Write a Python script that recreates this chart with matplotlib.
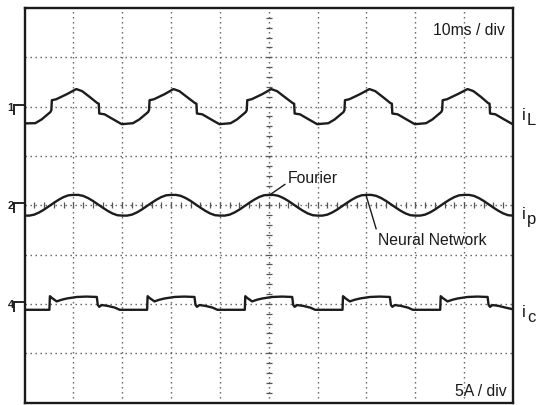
import matplotlib
matplotlib.use("Agg")
import matplotlib.pyplot as plt
import numpy as np

plt.rcParams["font.family"] = ["Liberation Sans", "DejaVu Sans"]

# ---- scope settings ----
TIME_PER_DIV = 10.0   # ms / div
AMP_PER_DIV = 5.0     # A / div
time_label = "10ms / div"
amp_label = "5A / div"

# channel ground levels (divisions from screen centre)
offset_L = 2.0
offset_p = 0.0
offset_c = -2.0

# load current i_L  (time in ms, current in A)
t_L = [0.0, 2.2, 3.5, 5.3, 5.5, 5.6, 6.5, 8.7, 10.6, 11.8, 13.4, 14.9, 15.2, 15.3, 16.4, 18.1, 19.9,
       22.2, 23.5, 25.3, 25.5, 25.6, 26.5, 28.7, 30.5, 31.7, 33.3, 34.9, 35.2, 35.3, 36.4, 38.1, 39.9,
       42.2, 43.5, 45.3, 45.5, 45.6, 46.5, 48.7, 50.5, 51.7, 53.3, 54.9, 55.2, 55.3, 56.4, 58.1, 59.9,
       62.2, 63.5, 65.3, 65.5, 65.6, 66.5, 68.7, 70.6, 71.8, 73.4, 74.9, 75.2, 75.3, 76.4, 78.1, 79.9,
       82.2, 83.5, 85.3, 85.5, 85.6, 86.5, 88.7, 90.7, 91.9, 93.5, 94.9, 95.2, 95.3, 96.4, 98.1, 100.0]
i_L = [-1.70, -1.68, -1.30, -0.55, -0.35, 0.65, 0.75, 1.27, 1.78, 1.57, 0.96, 0.36, 0.30, -0.70, -0.78, -1.27, -1.78,
       -1.68, -1.30, -0.55, -0.35, 0.65, 0.75, 1.27, 1.78, 1.57, 0.96, 0.36, 0.30, -0.70, -0.78, -1.27, -1.78,
       -1.68, -1.30, -0.55, -0.35, 0.65, 0.75, 1.27, 1.78, 1.57, 0.96, 0.36, 0.30, -0.70, -0.78, -1.27, -1.78,
       -1.68, -1.30, -0.55, -0.35, 0.65, 0.75, 1.27, 1.78, 1.57, 0.96, 0.36, 0.30, -0.70, -0.78, -1.27, -1.78,
       -1.68, -1.30, -0.55, -0.35, 0.65, 0.75, 1.27, 1.78, 1.57, 0.96, 0.36, 0.30, -0.70, -0.78, -1.27, -1.80]

# supply current i_p, sampled every 1 ms (Fourier and neural-network traces overlap)
t_p = list(range(0, 101))
i_p = [-1.05, -1.05, -0.95, -0.73, -0.44, -0.10, 0.24, 0.56, 0.83, 1.01,
       1.05, 1.05, 0.95, 0.73, 0.44, 0.10, -0.24, -0.56, -0.83, -1.01,
       -1.05, -1.05, -0.95, -0.73, -0.44, -0.10, 0.24, 0.56, 0.83, 1.01,
       1.05, 1.05, 0.95, 0.73, 0.44, 0.10, -0.24, -0.56, -0.83, -1.01,
       -1.05, -1.05, -0.95, -0.73, -0.44, -0.10, 0.24, 0.56, 0.83, 1.01,
       1.05, 1.05, 0.95, 0.73, 0.44, 0.10, -0.24, -0.56, -0.83, -1.01,
       -1.05, -1.05, -0.95, -0.73, -0.44, -0.10, 0.24, 0.56, 0.83, 1.01,
       1.05, 1.05, 0.95, 0.73, 0.44, 0.10, -0.24, -0.56, -0.83, -1.01,
       -1.05, -1.05, -0.95, -0.73, -0.44, -0.10, 0.24, 0.56, 0.83, 1.01,
       1.05, 1.05, 0.95, 0.73, 0.44, 0.10, -0.24, -0.56, -0.83, -1.01,
       -1.05]

# compensating current i_c
t_c = [0.0, 5.1, 5.2, 5.6, 6.6, 7.6, 8.7, 10.7, 12.7, 14.8, 15.0, 15.3, 15.8, 17.0, 18.5, 19.5,
       25.1, 25.2, 25.6, 26.6, 27.6, 28.7, 30.7, 32.7, 34.8, 35.0, 35.3, 35.8, 37.0, 38.5, 39.5,
       45.1, 45.2, 45.6, 46.6, 47.6, 48.7, 50.7, 52.7, 54.8, 55.0, 55.3, 55.8, 57.0, 58.5, 59.5,
       65.1, 65.2, 65.6, 66.6, 67.6, 68.7, 70.7, 72.7, 74.8, 75.0, 75.3, 75.8, 77.0, 78.5, 79.5,
       85.1, 85.2, 85.6, 86.6, 87.6, 88.7, 90.7, 92.7, 94.8, 95.0, 95.3, 95.8, 97.0, 98.5, 100.0]
i_c = [-0.60, -0.60, 0.78, 0.60, 0.25, 0.42, 0.55, 0.70, 0.74, 0.70, -0.10, -0.30, -0.12, -0.20, -0.38, -0.60,
       -0.60, 0.78, 0.60, 0.25, 0.42, 0.55, 0.70, 0.74, 0.70, -0.10, -0.30, -0.12, -0.20, -0.38, -0.60,
       -0.60, 0.78, 0.60, 0.25, 0.42, 0.55, 0.70, 0.74, 0.70, -0.10, -0.30, -0.12, -0.20, -0.38, -0.60,
       -0.60, 0.78, 0.60, 0.25, 0.42, 0.55, 0.70, 0.74, 0.70, -0.10, -0.30, -0.12, -0.20, -0.38, -0.60,
       -0.60, 0.78, 0.60, 0.25, 0.42, 0.55, 0.70, 0.74, 0.70, -0.10, -0.30, -0.12, -0.20, -0.38, -0.55]

channel_names = ["L", "p", "c"]
channel_numbers = ["1", "2", "4"]

# ---- figure ----
W, H = 538, 406
fig = plt.figure(figsize=(W / 100, H / 100), dpi=100)
fig.patch.set_facecolor("white")
ax = fig.add_axes([24.5 / W, 1 - 403.5 / H, (513 - 24.5) / W, (403.5 - 9) / H])
ax.set_xlim(0, 10 * TIME_PER_DIV)
ax.set_ylim(-4, 4)
ax.set_xticks([])
ax.set_yticks([])
for s in ax.spines.values():
    s.set_linewidth(1.7)
    s.set_color("#1a1a1a")

# graticule
dot = (0, (1.0, 2.6))
for k in range(1, 10):
    ax.axvline(k * TIME_PER_DIV, color="#5a5a5a", lw=1.0, ls=dot, zorder=1)
for k in range(-3, 4):
    ax.axhline(k, color="#5a5a5a", lw=1.0, ls=dot, zorder=1)
# minor ticks along the centre cross
ax.vlines(np.arange(TIME_PER_DIV / 5, 10 * TIME_PER_DIV, TIME_PER_DIV / 5), -0.06, 0.06,
          color="#555555", lw=0.9, zorder=1)
ax.hlines(np.arange(-3.8, 4.0, 0.2), 5 * TIME_PER_DIV - 0.6, 5 * TIME_PER_DIV + 0.6,
          color="#555555", lw=0.9, zorder=1)

# traces
trace_kw = dict(color="#1c1c1c", lw=1.7, solid_joinstyle="round", zorder=3)
ax.plot(t_L, offset_L + np.array(i_L) / AMP_PER_DIV, **trace_kw)
ax.plot(t_p, offset_p + np.array(i_p) / AMP_PER_DIV, **trace_kw)
ax.plot(t_c, offset_c + np.array(i_c) / AMP_PER_DIV, **trace_kw)

# channel ground markers at the left edge
for num, off in zip(channel_numbers, [offset_L, offset_p, offset_c]):
    ax.text(-2.2, off, num, fontsize=8, ha="right", va="center", clip_on=False,
            color="#222222", fontweight="bold")
    ax.plot([-2.1, -0.4], [off + 0.04, off + 0.04], color="#222222", lw=1.4, clip_on=False)
    ax.plot([-2.1, -2.1], [off + 0.04, off - 0.14], color="#222222", lw=1.4, clip_on=False)

# scale readouts
ax.text(98.3, 3.57, time_label, fontsize=11.3, ha="right", va="center", color="#1a1a1a")
ax.text(98.7, -3.76, amp_label, fontsize=11.3, ha="right", va="center", color="#1a1a1a")

# labels of the two i_p estimates
ax.annotate("Fourier", xy=(50.2, offset_p + 1.05 / AMP_PER_DIV), xytext=(53.9, 0.57),
            fontsize=11.3, ha="left", va="center", color="#1a1a1a",
            arrowprops=dict(arrowstyle="-", color="#1a1a1a", lw=1.0,
                            shrinkA=0, shrinkB=0, relpos=(0.0, 0.15)))
ax.annotate("Neural Network", xy=(69.9, offset_p + 1.05 / AMP_PER_DIV), xytext=(72.3, -0.69),
            fontsize=11.3, ha="left", va="center", color="#1a1a1a",
            arrowprops=dict(arrowstyle="-", color="#1a1a1a", lw=1.0,
                            shrinkA=0, shrinkB=0, relpos=(0.0, 0.85)))

# channel names at the right edge
for name, off in zip(channel_names, [offset_L, offset_p, offset_c]):
    yp = 206.2 - off * 49.3
    fig.text(522 / W, 1 - (yp + 8) / H, "i", fontsize=12, ha="left", va="center", color="#1a1a1a")
    fig.text(527 / W, 1 - (yp + 13) / H, name, fontsize=12, ha="left", va="center", color="#1a1a1a")

fig.savefig("out.png", dpi=100, facecolor="white")
